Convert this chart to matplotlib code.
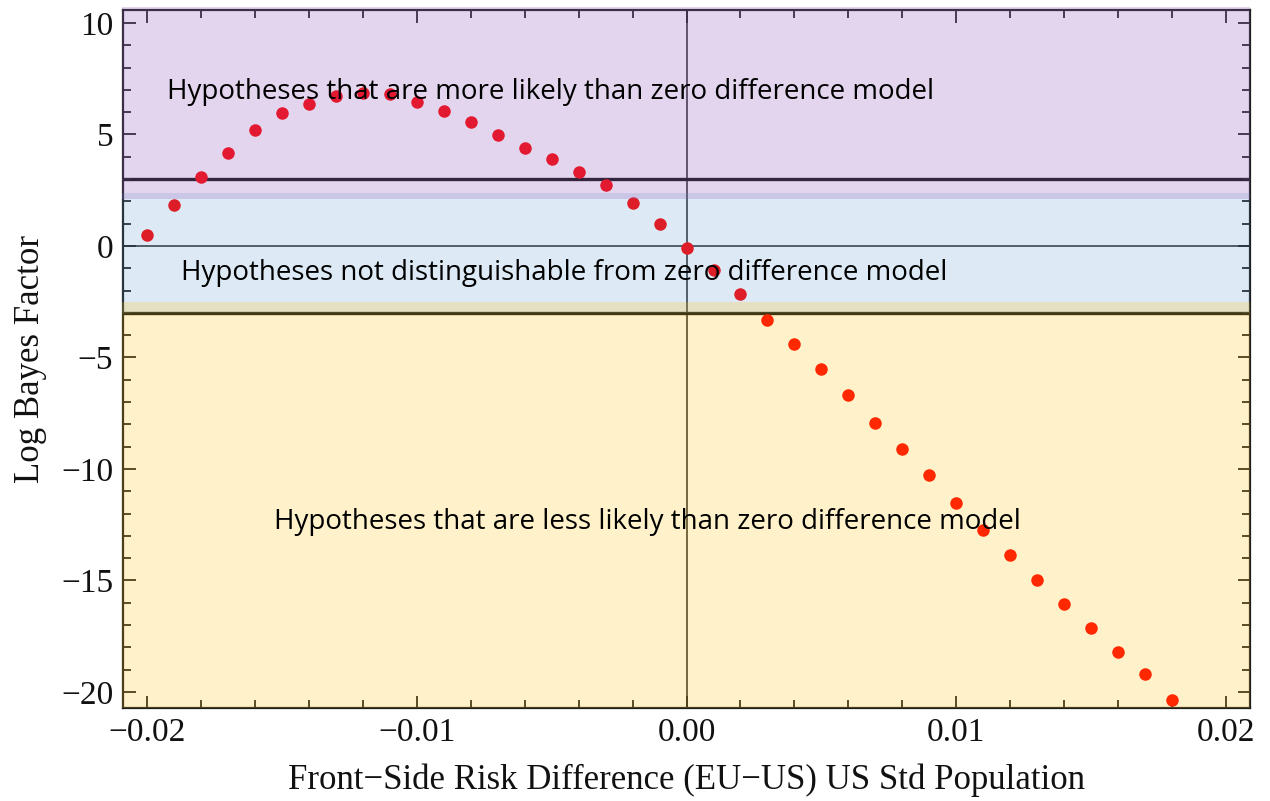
import numpy as np
import matplotlib
matplotlib.use("Agg")
import matplotlib.pyplot as plt
from matplotlib.ticker import MultipleLocator, FuncFormatter

# risk difference grid and log Bayes factor
risk_diff = [-0.020, -0.019, -0.018, -0.017, -0.016, -0.015, -0.014, -0.013,
             -0.012, -0.011, -0.010, -0.009, -0.008, -0.007, -0.006, -0.005,
             -0.004, -0.003, -0.002, -0.001, 0.000, 0.001, 0.002, 0.003,
             0.004, 0.005, 0.006, 0.007, 0.008, 0.009, 0.010, 0.011,
             0.012, 0.013, 0.014, 0.015, 0.016, 0.017, 0.018]
log_bf = [0.49, 1.83, 3.08, 4.15, 5.22, 5.94, 6.38, 6.74,
          6.88, 6.83, 6.47, 6.07, 5.54, 4.96, 4.38, 3.88,
          3.30, 2.72, 1.92, 0.98, -0.09, -1.07, -2.14, -3.30,
          -4.38, -5.54, -6.70, -7.95, -9.11, -10.27, -11.52, -12.72,
          -13.84, -15.00, -16.07, -17.14, -18.21, -19.20, -20.36]

region_labels = ["Hypotheses that are more likely than zero difference model",
                 "Hypotheses not distinguishable from zero difference model",
                 "Hypotheses that are less likely than zero difference model"]

serif = "Liberation Serif"

fig = plt.figure(figsize=(12.7, 8.01), dpi=100)
ax = fig.add_axes([0.0969, 0.1161, 0.8874, 0.8714])

ax.set_xlim(-0.0209, 0.0209)
ax.set_ylim(-20.72, 10.58)

ax.axhline(0, color="#222222", lw=1.1, zorder=1)
ax.axvline(0, color="#222222", lw=1.1, zorder=1)
ax.axhline(3, color="#111111", lw=2.4, zorder=1)
ax.axhline(-3, color="#111111", lw=2.4, zorder=1)

ax.plot(risk_diff, log_bf, "o", color="#ff0000", ms=9, mew=0, zorder=2)

# translucent bands laid over everything, frame included
x0, x1 = -0.0009, 1.0
ax.axhspan(-3.0, 2.38, xmin=x0, xmax=x1, color=(85/255, 150/255, 205/255),
           alpha=0.2, lw=0, zorder=5, clip_on=False)
ax.axhspan(2.12, 10.72, xmin=x0, xmax=x1, color=(148/255, 95/255, 190/255),
           alpha=0.26, lw=0, zorder=6, clip_on=False)
ax.axhspan(-20.72, -2.5, xmin=x0, xmax=x1, color=(1.0, 190/255, 0.0),
           alpha=0.21, lw=0, zorder=6, clip_on=False)

tfont = dict(family="Open Sans", fontsize=20, color="black", va="center",
             ha="left", zorder=8)
ax.text(-0.01926, 6.9, region_labels[0], **tfont)
ax.text(-0.01874, -1.2, region_labels[1], **tfont)
ax.text(-0.01532, -12.4, region_labels[2], **tfont)

for side in ax.spines.values():
    side.set_linewidth(1.6)
    side.set_color("#1e1e1e")
    side.set_zorder(3)

ax.xaxis.set_major_locator(MultipleLocator(0.01))
ax.xaxis.set_minor_locator(MultipleLocator(0.002))
ax.yaxis.set_major_locator(MultipleLocator(5))
ax.yaxis.set_minor_locator(MultipleLocator(1))
ax.xaxis.set_major_formatter(FuncFormatter(lambda v, p: f"{v:.2f}".replace("-", "\u2212")))
ax.yaxis.set_major_formatter(FuncFormatter(lambda v, p: f"{v:.0f}".replace("-", "\u2212")))
ax.tick_params(which="both", direction="in", top=True, right=True,
               color="#1e1e1e", width=1.3)
ax.tick_params(which="major", length=9, labelsize=24, pad=7)
ax.tick_params(which="minor", length=5.5)
for lab in ax.get_xticklabels() + ax.get_yticklabels():
    lab.set_family(serif)
    lab.set_color("#111111")

ax.set_xlabel("Front\u2212Side Risk Difference (EU\u2212US) US Std Population",
              family=serif, fontsize=25, color="#111111", labelpad=11)
ax.set_ylabel("Log Bayes Factor", family=serif, fontsize=25, color="#111111",
              labelpad=10)

fig.savefig("out.png", dpi=100)
